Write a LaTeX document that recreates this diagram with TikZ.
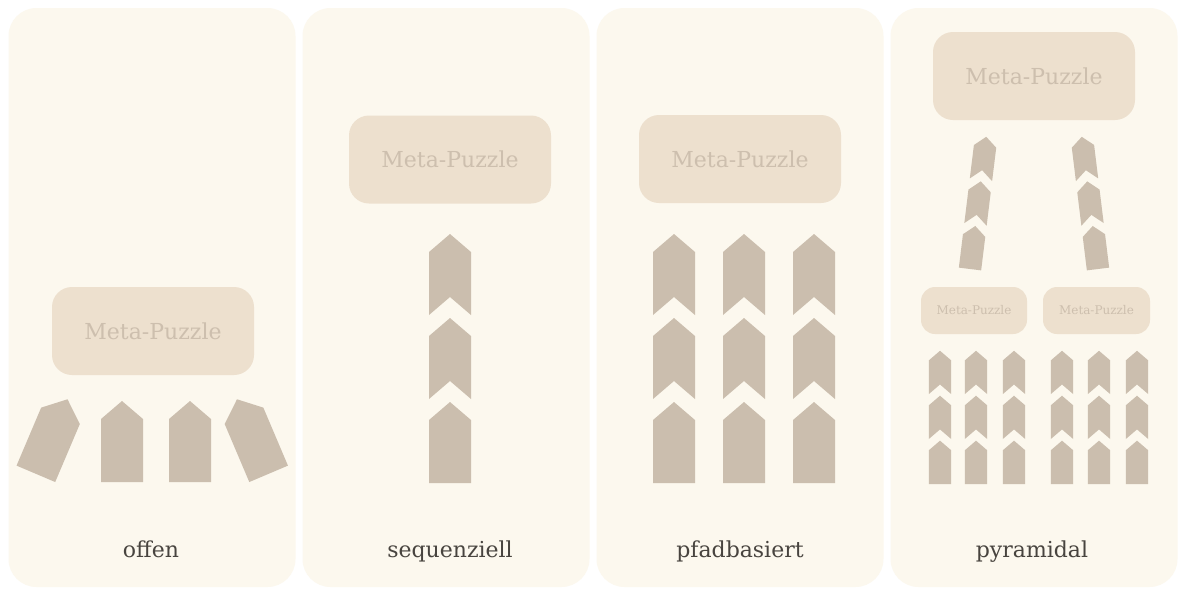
\documentclass[tikz,border=0pt]{standalone}
\usepackage{fontspec}
\setmainfont{DejaVu Serif}
\definecolor{panelbg}{HTML}{FCF8EE}
\definecolor{boxbg}{HTML}{EDE0CE}
\definecolor{boxtext}{HTML}{CDBFAE}
\definecolor{piececol}{HTML}{CBBEAE}
\definecolor{labeltext}{HTML}{48443F}
\newcommand\chevat[1]{\fill[piececol] (0,#1) -- ++(21,18) -- ++(0,63) -- ++(-21,-18) -- ++(-21,18) -- ++(0,-63) -- cycle;}
\newcommand\houseat[1]{\fill[piececol] (0,#1) -- ++(21,18) -- ++(0,63) -- ++(-42,0) -- ++(0,-63) -- cycle;}
\tikzset{
  panel/.style={draw=none, fill=panelbg, rounded corners=28pt, minimum width=287pt, minimum height=579pt, inner sep=0pt},
  metabox/.style={draw=none, fill=boxbg, text=boxtext, rounded corners=20pt, minimum width=202pt, minimum height=88pt, inner sep=0pt, font=\fontsize{22}{26}\selectfont},
  smallbox/.style={draw=none, fill=boxbg, text=boxtext, rounded corners=14pt, minimum height=47pt, inner sep=0pt, font=\fontsize{12}{14}\selectfont},
  panellabel/.style={text=labeltext, anchor=base, inner sep=0pt, font=\fontsize{22}{26}\selectfont},
  housec/.pic={\houseat{-41}},
  column/.pic={\chevat{-249}\chevat{-165}\houseat{-81}},
}
\begin{document}
\begin{tikzpicture}[x=1pt,y=-1pt]
\useasboundingbox (0,0) rectangle (1178,590);
\fill[white] (0,0) rectangle (1178,590);
% panels
\node[panel] (p1) at (152,297.5) {};
\node[panel] (p2) at (446,297.5) {};
\node[panel] (p3) at (740,297.5) {};
\node[panel] (p4) at (1034,297.5) {};
% labels
\node[panellabel] (l1) at (151,557) {offen};
\node[panellabel] (l2) at (450,557) {sequenziell};
\node[panellabel] (l3) at (740,557) {pfadbasiert};
\node[panellabel] (l4) at (1032,557) {pyramidal};
% panel 1: offen
\node[metabox] (m1) at (153,331) {Meta-Puzzle};
\pic[rotate=-23] at (51.5,437) {housec};
\pic at (122,442) {housec};
\pic at (190,442) {housec};
\pic[rotate=23] at (253,437) {housec};
% panel 2: sequenziell
\node[metabox] (m2) at (450,159.5) {Meta-Puzzle};
\pic at (450,483) {column};
% panel 3: pfadbasiert
\node[metabox] (m3) at (740,159) {Meta-Puzzle};
\pic at (674,483) {column};
\pic at (744,483) {column};
\pic at (814,483) {column};
% panel 4: pyramidal
\node[metabox] (m4) at (1034,76) {Meta-Puzzle};
\pic[rotate=-7, scale=0.535] at (970,269) {column};
\pic[rotate=7, scale=0.535] at (1098,269) {column};
\node[smallbox, minimum width=106pt] (s1) at (974,310.5) {Meta-Puzzle};
\node[smallbox, minimum width=107pt] (s2) at (1096.5,310.5) {Meta-Puzzle};
\foreach \cx in {940,976,1014,1062,1099,1137}
  \pic[scale=0.535] at (\cx,484) {column};
\end{tikzpicture}
\end{document}
